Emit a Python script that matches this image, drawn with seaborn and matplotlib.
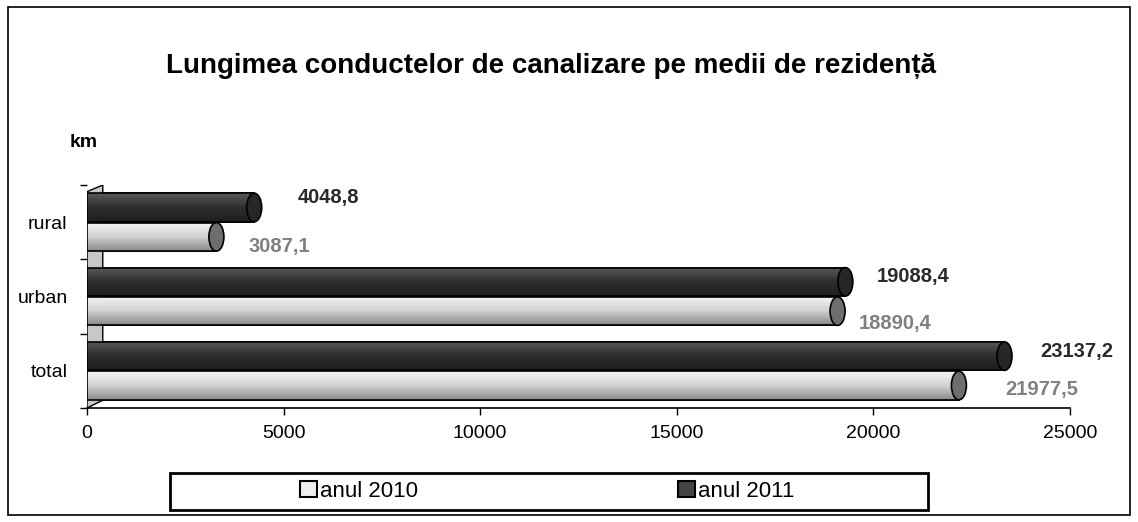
import numpy as np
import pandas as pd
import matplotlib
matplotlib.use("Agg")
import matplotlib.pyplot as plt
import seaborn as sns
from matplotlib.patches import Ellipse, Rectangle, Polygon, Patch

categories = ["rural", "urban", "total"]
values_2010 = [3087.1, 18890.4, 21977.5]
values_2011 = [4048.8, 19088.4, 23137.2]
labels_2010 = ["3087,1", "18890,4", "21977,5"]
labels_2011 = ["4048,8", "19088,4", "23137,2"]
series = ["anul 2010", "anul 2011"]
xticks = [0, 5000, 10000, 15000, 20000, 25000]

# label placement (style): offsets in pixels from bar end / bar centre
offs_2011 = [(52, -10), (39, -5), (44, -5)]
offs_2010 = [(40, 10), (29, 12), (54, 4)]

df = pd.DataFrame({
    "cat": categories * 2,
    "val": values_2010 + values_2011,
    "serie": [series[0]] * 3 + [series[1]] * 3,
})

sns.set_theme(style="white")
plt.rcParams["font.family"] = ["Liberation Sans", "DejaVu Sans"]

fig = plt.figure(figsize=(11.38, 5.22), dpi=100)
ax = fig.add_axes([0.0765, 0.2184, 0.8635, 0.4272])

light, dark = "#d4d4d4", "#3a3a3a"
BW = 0.79
sns.barplot(data=df, x="val", y="cat", hue="serie", order=categories,
            hue_order=[series[1], series[0]],
            palette={series[0]: light, series[1]: dark},
            width=BW, gap=0.03, orient="h", ax=ax, legend=False,
            edgecolor="black", linewidth=1.2, saturation=1)

ax.set_xlim(0, 25000)
ax.set_ylim(2.5, -0.5)

px = 25000 / 983.0  # data units per pixel horizontally

grad = np.linspace(0, 1, 64).reshape(-1, 1)
for p in list(ax.patches):
    x0, y0 = p.get_x(), p.get_y()
    w, h = p.get_width(), p.get_height()
    is_dark = matplotlib.colors.to_hex(p.get_facecolor()) == dark
    if is_dark:
        cmap = matplotlib.colors.LinearSegmentedColormap.from_list("d", ["#5a5a5a", "#2e2e2e", "#1e1e1e"])
        cap_col = "#262626"
    else:
        cmap = matplotlib.colors.LinearSegmentedColormap.from_list("l", ["#f4f4f4", "#d2d2d2", "#8a8a8a"])
        cap_col = "#6e6e6e"
    # extend body to the cap centre
    p.set_width(w + 8 * px)
    im = ax.imshow(grad, extent=[x0, x0 + w + 8 * px, y0 + h, y0], aspect="auto",
                   cmap=cmap, zorder=2.1, origin="upper")
    im.set_clip_path(p)
    ax.add_patch(Rectangle((x0, y0), w + 8 * px, h, fill=False,
                           edgecolor="black", lw=1.2, zorder=2.2))
    ax.add_patch(Ellipse((x0 + w + 8 * px, y0 + h / 2), 15 * px, h, facecolor=cap_col,
                         edgecolor="black", lw=1.2, zorder=2.3))
ax.set_xlim(0, 25000)
ax.set_ylim(2.5, -0.5)

# value labels
q = BW / 4
for i in range(len(categories)):
    dx, dy = offs_2011[i]
    ax.annotate(labels_2011[i], (values_2011[i], i - q), xytext=(dx * 0.72, -dy * 0.72),
                textcoords="offset points", ha="left", va="center",
                fontsize=14.5, fontweight="bold", color="#2a2a2a")
    dx, dy = offs_2010[i]
    ax.annotate(labels_2010[i], (values_2010[i], i + q), xytext=(dx * 0.72, -dy * 0.72),
                textcoords="offset points", ha="left", va="center",
                fontsize=14.5, fontweight="bold", color="#808080")

# left wall (3D effect)
wall = Polygon([(0, 0), (0.016, 0.035), (0.016, 1.0), (0, 0.97)], closed=True,
               transform=ax.transAxes, facecolor="#c8c8c8", edgecolor="black",
               lw=1, zorder=1)
ax.add_patch(wall)

ax.set_xticks(xticks)
ax.set_xticklabels([str(t) for t in xticks], fontsize=14)
ax.set_yticks([0, 1, 2])
ax.set_yticklabels(categories, fontsize=14)
ax.set_yticks([-0.5, 0.5, 1.5, 2.5], minor=True)
ax.tick_params(axis="y", which="major", length=0, pad=14)
ax.tick_params(axis="y", which="minor", length=5, width=1, color="black", left=True)
ax.tick_params(axis="x", which="major", length=5, width=1, color="black", bottom=True,
               direction="out", pad=7)
ax.set_xlabel("")
ax.set_ylabel("")
for s in ["top", "right", "left"]:
    ax.spines[s].set_visible(False)
ax.spines["bottom"].set_color("black")
ax.spines["bottom"].set_linewidth(1.2)
for lab in ax.get_xticklabels() + ax.get_yticklabels():
    lab.set_color("black")

fig.text(0.484, 0.860, "Lungimea conductelor de canalizare pe medii de rezidență",
         ha="center", va="baseline", fontsize=20, fontweight="bold", color="black")
fig.text(0.0615, 0.718, "km", ha="left", va="baseline", fontsize=14,
         fontweight="bold", color="black")

# outer border
fig.patches.append(Rectangle((0.007, 0.014), 0.986, 0.972, transform=fig.transFigure,
                             fill=False, edgecolor="black", lw=1.2))

# legend box
fig.patches.append(Rectangle((170 / 1138, 12 / 522), 758 / 1138, 37 / 522,
                             transform=fig.transFigure, fill=False,
                             edgecolor="black", lw=2))
handles = [Patch(facecolor="#eeeeee", edgecolor="black", lw=1.5),
           Patch(facecolor="#444444", edgecolor="black", lw=1.5)]
for hnd, name, xpos in zip(handles, series, [300 / 1138, 678 / 1138]):
    lg = fig.legend([hnd], [name], loc="center left", bbox_to_anchor=(xpos, 30.5 / 522),
                    frameon=False, fontsize=16, handlelength=0.75, handleheight=0.7,
                    handletextpad=0.15, borderpad=0, borderaxespad=0)
    for t in lg.get_texts():
        t.set_color("black")

fig.savefig("out.png", dpi=100)
